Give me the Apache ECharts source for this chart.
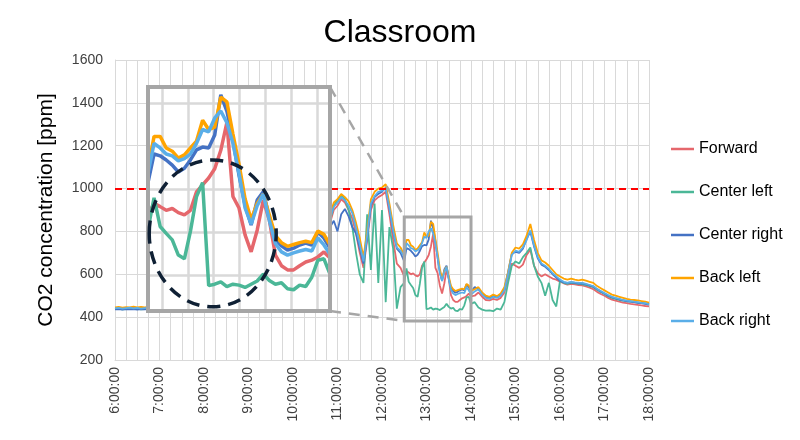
<!DOCTYPE html>
<html><head><meta charset="utf-8">
<script src="https://cdn.jsdelivr.net/npm/echarts@6/dist/echarts.min.js"></script>
<style>html,body{margin:0;padding:0;background:#fff}#chart{width:800px;height:440px}</style>
</head><body><div id="chart"></div>
<script>
// ---------- data ----------
const seriesNames = ['Forward', 'Center left', 'Center right', 'Back left', 'Back right'];
const yTickValues = [200, 400, 600, 800, 1000, 1200, 1400, 1600];
const hourLabels = ['6:00:00','7:00:00','8:00:00','9:00:00','10:00:00','11:00:00','12:00:00','13:00:00','14:00:00','15:00:00','16:00:00','17:00:00','18:00:00'];
const threshold = 1000;

const times = [
  '6:00','6:05','6:10','6:15','6:20','6:25','6:30','6:35','6:40','6:45',
  '8:45',
  '10:50','10:55','11:00','11:05','11:10','11:15','11:20','11:25','11:30','11:35','11:40','11:45','11:50','11:55','12:00','12:05','12:10','12:15','12:20','12:25',
  '12:30','12:33','12:36','12:39','12:42','12:45','12:48','12:51','12:54','12:57','13:00','13:03','13:06','13:09','13:12','13:15','13:18','13:21','13:24','13:27','13:30','13:33','13:36','13:39','13:42','13:45','13:48','13:51','13:54','13:57','14:00',
  '14:05','14:10','14:15','14:20','14:25','14:30','14:35','14:40','14:45','14:50','14:55','15:00','15:05','15:10','15:15','15:20','15:25','15:30','15:35','15:40','15:45','15:50','15:55','16:00','16:05','16:10','16:15','16:20','16:25','16:30','16:35','16:40','16:45','16:50','16:55','17:00','17:05','17:10','17:15','17:20','17:25','17:30','17:35','17:40','17:45','17:50','17:55','18:00'
];

const forward = [
  440,442,438,441,440,443,439,441,440,442,
  null,
  840,900,920,950,935,900,860,790,700,630,760,900,945,960,970,985,880,760,650,630,
  590,615,608,600,604,595,590,600,640,655,670,690,730,790,630,605,547,510,557,622,579,503,480,471,471,480,488,492,499,510,497,
  500,515,495,480,478,485,480,490,515,580,650,640,630,645,690,715,640,605,590,600,590,580,575,565,558,552,555,553,550,548,543,538,530,518,508,500,490,482,477,472,468,465,462,460,457,455,452,450
];
const centerLeft = [
  437,439,436,438,440,437,439,436,438,440,
  null,
  850,920,945,970,950,900,820,700,600,560,880,620,930,560,900,470,820,720,440,540,
  560,627,565,550,536,503,495,555,630,660,437,440,445,435,440,438,433,440,447,462,448,440,443,430,428,438,435,455,492,495,462,
  470,445,435,430,432,428,440,435,470,560,640,660,650,680,700,725,640,590,560,500,560,480,450,570,560,555,560,558,555,553,550,545,540,528,518,508,498,490,485,480,477,474,472,470,468,466,464,462
];
const centerRight = [
  436,438,435,437,436,438,435,437,436,438,
  null,
  820,850,800,880,905,870,820,790,720,650,770,920,960,975,985,1005,905,800,720,700,
  660,722,718,709,698,683,691,709,731,737,735,763,850,815,752,676,611,568,622,640,583,536,523,514,518,525,529,525,553,540,518,
  540,530,510,495,490,500,493,505,530,610,695,705,700,720,765,800,730,675,645,635,620,600,585,570,562,560,562,560,557,558,553,548,542,530,520,510,500,493,488,483,478,475,472,470,467,465,462,458
];
const backLeft = [
  446,448,444,447,445,449,446,448,445,450,
  null,
  880,935,950,975,960,940,900,840,770,680,800,950,985,1000,1005,1020,930,830,745,725,
  690,760,760,735,728,713,720,735,750,795,775,780,845,835,765,700,625,580,615,635,590,545,530,522,526,530,533,530,555,548,525,
  530,540,515,500,495,505,498,510,540,610,700,725,720,740,780,835,760,700,665,655,640,620,600,590,580,575,580,575,572,575,570,565,560,545,535,525,515,505,500,495,490,485,482,480,478,475,472,468
];
const backRight = [
  441,443,440,442,444,441,443,440,442,444,
  null,
  860,915,935,960,945,920,885,815,740,660,780,930,965,985,990,1000,910,805,725,710,
  680,745,735,722,718,707,712,722,745,775,770,800,815,790,745,680,605,570,610,635,578,528,510,503,508,512,515,512,540,525,505,
  520,530,505,490,485,495,490,500,525,600,690,710,705,725,760,805,735,680,650,640,625,605,590,575,565,560,565,562,560,560,555,550,545,532,522,512,503,495,490,485,480,477,475,472,470,467,465,460
];
const seriesValues = [forward, centerLeft, centerRight, backLeft, backRight];

// magnified window (time in minutes of day, ppm)
const zoomWindowTime = [750, 840];
const zoomWindowValue = [382, 867];
// highlighted ellipse in the magnified window (centre time, centre ppm, half-width min, half-height ppm)
const ellipseSpec = [782, 550, 31.4, 159];

// ---------- styles / layout ----------
const colors = ['#e5676c', '#4bb797', '#4472c4', '#ffa400', '#5aaee8'];
const MAIN = {left: 115, right: 151, top: 60, bottom: 80};
const INSET = {left: 148, top: 87, width: 182, height: 224};
const FONT = "'Liberation Sans', Arial, sans-serif";
const GRID_COLOR = '#d9d9d9';

function toMin(t) { const [h, m] = t.split(':').map(Number); return h * 60 + m; }
const minutes = times.map(toMin);

const mainSeries = seriesNames.map((name, i) => ({
  name, type: 'line', xAxisIndex: 0, yAxisIndex: 0,
  data: minutes.map((m, k) => [m, seriesValues[i][k]]),
  symbol: 'none', connectNulls: false,
  lineStyle: {width: 1.8, color: colors[i]}, itemStyle: {color: colors[i]},
  z: 2,
  markLine: i === 0 ? {
    silent: true, symbol: ['none', 'none'], label: {show: false},
    lineStyle: {color: '#ff0000', width: 2, type: [7, 5]},
    data: [{yAxis: threshold}]
  } : undefined
}));

const insetSeries = seriesNames.map((name, i) => ({
  name, type: 'line', xAxisIndex: 1, yAxisIndex: 1,
  data: minutes.map((m, k) => [m, seriesValues[i][k]])
    .filter(d => d[0] >= zoomWindowTime[0] && d[0] <= zoomWindowTime[1]),
  symbol: 'none', clip: true,
  lineStyle: {width: 3.5, color: colors[i]}, itemStyle: {color: colors[i]},
  z: 7
}));

const option = {
  animation: false,
  backgroundColor: '#fff',
  color: colors,
  title: {
    text: 'Classroom', left: 'center', top: 12,
    textStyle: {fontFamily: FONT, fontSize: 32, fontWeight: 'normal', color: '#000'}
  },
  legend: {
    orient: 'vertical', left: 666, top: 136,
    icon: 'rect', itemWidth: 23, itemHeight: 2.5, itemGap: 27,
    data: seriesNames,
    textStyle: {fontFamily: FONT, fontSize: 16, color: '#000'}
  },
  grid: [
    {left: MAIN.left, right: MAIN.right, top: MAIN.top, bottom: MAIN.bottom},
    {left: INSET.left, top: INSET.top, width: INSET.width, height: INSET.height}
  ],
  xAxis: [
    {
      gridIndex: 0, type: 'value', min: 360, max: 1080, interval: 60,
      axisLine: {show: true, lineStyle: {color: GRID_COLOR}},
      axisTick: {show: false},
      minorTick: {show: false, splitNumber: 4},
      splitLine: {show: true, lineStyle: {color: GRID_COLOR}},
      minorSplitLine: {show: true, lineStyle: {color: GRID_COLOR}},
      axisLabel: {
        rotate: 90, margin: 7, fontFamily: FONT, fontSize: 14, color: '#404040',
        formatter: v => hourLabels[Math.round((v - 360) / 60)] || ''
      }
    },
    {gridIndex: 1, type: 'value', min: zoomWindowTime[0], max: zoomWindowTime[1], show: false},
    {
      gridIndex: 1, type: 'value', position: 'top', min: -0.543, max: 6.512, z: 6,
      axisLine: {show: false}, axisTick: {show: false}, axisLabel: {show: false},
      splitLine: {show: true, lineStyle: {color: GRID_COLOR, width: 2.5}}
    }
  ],
  yAxis: [
    {
      gridIndex: 0, type: 'value', min: yTickValues[0], max: yTickValues[yTickValues.length - 1], interval: 200,
      name: 'CO2 concentration [ppm]', nameLocation: 'middle', nameGap: 58, nameRotate: 90,
      nameTextStyle: {fontFamily: FONT, fontSize: 21, color: '#000'},
      axisLine: {show: true, lineStyle: {color: GRID_COLOR}},
      axisTick: {show: false},
      splitLine: {show: true, lineStyle: {color: GRID_COLOR}},
      axisLabel: {margin: 12, fontFamily: FONT, fontSize: 14, color: '#404040', formatter: v => String(v)}
    },
    {gridIndex: 1, type: 'value', min: zoomWindowValue[0], max: zoomWindowValue[1], show: false},
    {
      gridIndex: 1, type: 'value', position: 'right', min: -0.837, max: 4.372, z: 6,
      axisLine: {show: false}, axisTick: {show: false}, axisLabel: {show: false},
      splitLine: {show: true, lineStyle: {color: GRID_COLOR, width: 2.5}}
    }
  ],
  series: mainSeries.concat(insetSeries)
};

const chart = echarts.init(document.getElementById('chart'), null, {renderer: 'canvas'});
chart.setOption(option);

const px = (g, pt) => chart.convertToPixel({gridIndex: g}, pt);
const a = px(0, [zoomWindowTime[0], zoomWindowValue[1]]);
const b = px(0, [zoomWindowTime[1], zoomWindowValue[0]]);
const c = px(1, [ellipseSpec[0], ellipseSpec[1]]);
const e = px(1, [ellipseSpec[0] + ellipseSpec[2], ellipseSpec[1] + ellipseSpec[3]]);
const insetRight = INSET.left + INSET.width, insetBottom = INSET.top + INSET.height;
const GRAY = '#a6a6a6';

chart.setOption({
  graphic: [
    {type: 'line', z: 4, silent: true,
     shape: {x1: insetRight, y1: INSET.top, x2: a[0], y2: a[1]},
     style: {stroke: GRAY, lineWidth: 2.5, lineDash: [11, 8]}},
    {type: 'line', z: 4, silent: true,
     shape: {x1: insetRight, y1: insetBottom, x2: a[0], y2: b[1]},
     style: {stroke: GRAY, lineWidth: 2.5, lineDash: [11, 8]}},
    {type: 'rect', z: 4, silent: true,
     shape: {x: a[0], y: a[1], width: b[0] - a[0], height: b[1] - a[1]},
     style: {fill: null, stroke: GRAY, lineWidth: 3}},
    {type: 'rect', z: 5, silent: true,
     shape: {x: INSET.left, y: INSET.top, width: INSET.width, height: INSET.height},
     style: {fill: '#fff', stroke: null}},
    {type: 'rect', z: 8, silent: true,
     shape: {x: INSET.left, y: INSET.top, width: INSET.width, height: INSET.height},
     style: {fill: null, stroke: GRAY, lineWidth: 4}},
    {type: 'ellipse', z: 9, silent: true,
     shape: {cx: c[0], cy: c[1], rx: e[0] - c[0], ry: c[1] - e[1]},
     style: {fill: null, stroke: '#0f2034', lineWidth: 3.5, lineDash: [13, 8]}}
  ]
});
</script>
</body></html>
